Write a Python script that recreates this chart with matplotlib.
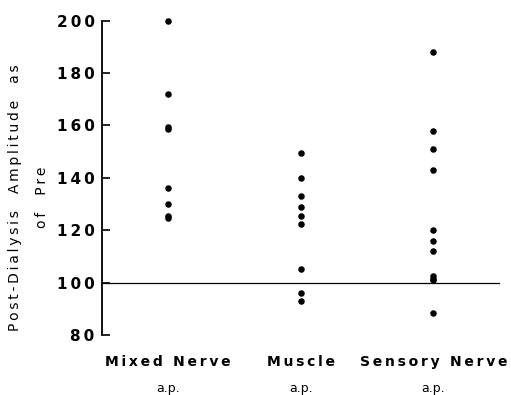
import matplotlib

matplotlib.use("Agg")
import matplotlib.pyplot as plt

# ── Data ────────────────────────────────────────────────────────────────────
categories = ["Mixed Nerve", "Muscle", "Sensory Nerve"]
mixed_nerve = [200, 172, 159.5, 158.5, 136, 130, 125.5, 124.5]
muscle = [149.5, 140, 133, 129, 125.5, 122.5, 105, 96, 93]
sensory_nerve = [188, 158, 151, 143, 120, 116, 112, 102.5, 101.5, 101, 88.5]
series = [mixed_nerve, muscle, sensory_nerve]
y_ticks = [80, 100, 120, 140, 160, 180, 200]
reference_level = 100

THIN = "\u2009"


def spaced(text):
    """Mimic the wide letter tracking of the original typesetting."""
    return THIN.join(text)


fig = plt.figure(figsize=(5.11, 3.95), dpi=100)
ax = fig.add_axes([0.199, 0.152, 0.779, 0.796])

for i, vals in enumerate(series):
    ax.scatter([i] * len(vals), vals, s=22, color="black", zorder=3,
               linewidths=0, clip_on=False)

ax.axhline(reference_level, color="black", lw=0.9, zorder=2)

ax.set_xlim(-0.5, 2.5)
ax.set_ylim(80, 200)
ax.set_yticks(y_ticks)
ax.set_yticklabels([spaced(str(t)) for t in y_ticks], fontsize=11, fontweight="bold")
ax.tick_params(axis="y", direction="in", length=6, width=1.2, pad=5)
ax.set_xticks([])
for side in ("top", "right", "bottom"):
    ax.spines[side].set_visible(False)
ax.spines["left"].set_linewidth(1.3)

# category labels under the axis
for i, name in enumerate(categories):
    ax.text(i, -0.085, spaced(name), transform=ax.get_xaxis_transform(),
            ha="center", va="center", fontsize=10, fontweight="bold")
    ax.text(i, -0.171, "a.p.", transform=ax.get_xaxis_transform(),
            ha="center", va="center", fontsize=9)

# two-line y label
fig.text(0.030, 0.50, spaced("Post-Dialysis  Amplitude  as"), rotation=90,
         ha="center", va="center", fontsize=10)
fig.text(0.083, 0.50, spaced("of  Pre"), rotation=90,
         ha="center", va="center", fontsize=10)

fig.savefig("out.png", dpi=100)
